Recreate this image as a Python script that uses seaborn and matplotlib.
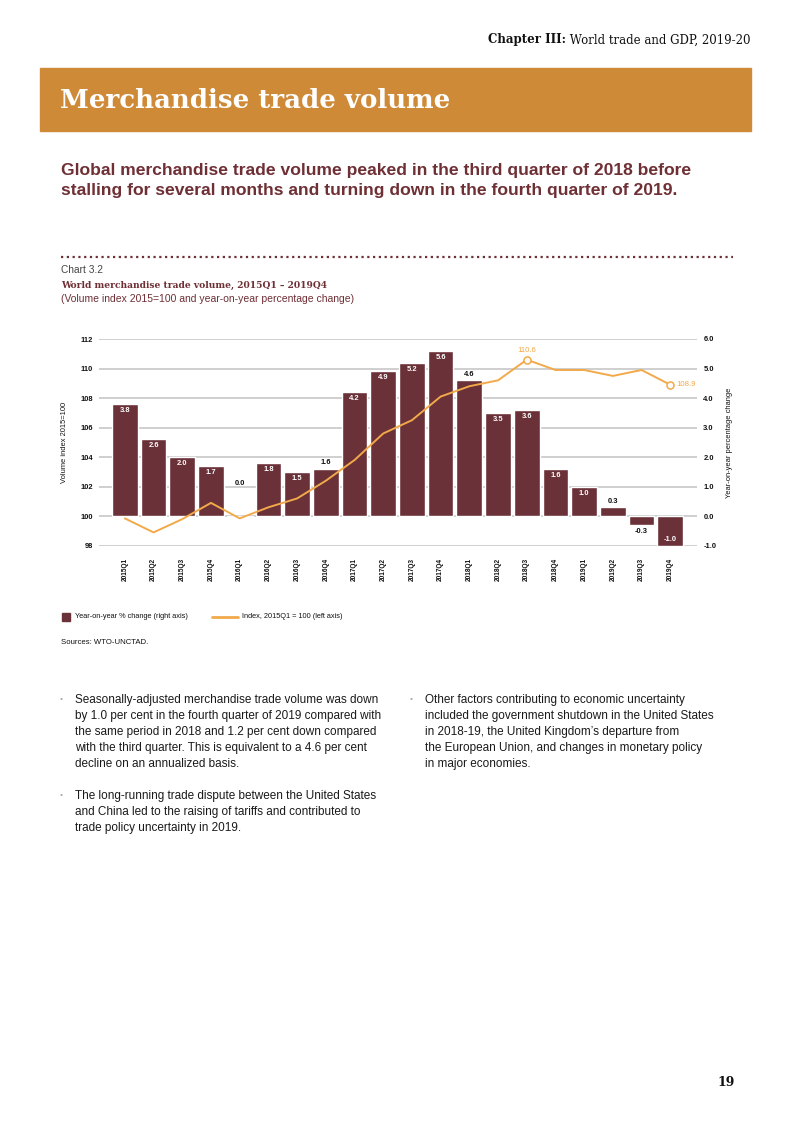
import numpy as np
import pandas as pd
import matplotlib
matplotlib.use("Agg")
import matplotlib.pyplot as plt
import seaborn as sns
from matplotlib.patches import Rectangle
from matplotlib.lines import Line2D

# ==========================================
# Data
# ==========================================
quarters = ["2015Q1", "2015Q2", "2015Q3", "2015Q4",
            "2016Q1", "2016Q2", "2016Q3", "2016Q4",
            "2017Q1", "2017Q2", "2017Q3", "2017Q4",
            "2018Q1", "2018Q2", "2018Q3", "2018Q4",
            "2019Q1", "2019Q2", "2019Q3", "2019Q4"]
yoy_change = [3.8, 2.6, 2.0, 1.7, -0.04, 1.8, 1.5, 1.6, 4.2, 4.9,
              5.2, 5.6, 4.6, 3.5, 3.6, 1.6, 1.0, 0.3, -0.3, -1.0]
volume_index = [99.85, 98.9, 99.8, 100.9, 99.85, 100.6, 101.2, 102.4, 103.8, 105.6,
                106.5, 108.1, 108.8, 109.2, 110.6, 109.9, 109.9, 109.5, 109.9, 108.9]
marked_quarters = ["2018Q3", "2019Q4"]
left_ticks = [98, 100, 102, 104, 106, 108, 110, 112]
right_ticks = [-1.0, 0.0, 1.0, 2.0, 3.0, 4.0, 5.0, 6.0]

# bars whose value label sits outside the bar, in black
outside_labels = ["2016Q4", "2018Q1", "2019Q2", "2019Q3"]

df = pd.DataFrame({"quarter": quarters, "yoy": yoy_change, "index": volume_index})

BAR = "#6a3138"
ORANGE = "#f2a94a"
BOX = "#cf8a38"
MAROON = "#6e2f35"
GRID = "#cccccc"
SANS = ["Liberation Sans", "DejaVu Sans"]
SERIF = ["DejaVu Serif"]

W, H = 793, 1122


def fx(px):
    return px / W


def fy(py):
    return 1 - py / H


sns.set_theme(style="white")
plt.rcParams["font.family"] = SANS

fig = plt.figure(figsize=(W / 100, H / 100), dpi=100)

# ==========================================
# Page furniture
# ==========================================
r = fig.canvas.get_renderer()
t_reg = fig.text(fx(750), fy(40), " World trade and GDP, 2019-20", ha="right", va="center",
                 fontsize=8.5, family=SERIF, color="#111111")
bb = t_reg.get_window_extent(renderer=r)
fig.text(bb.x0 / fig.dpi / fig.get_figwidth(), fy(40), "Chapter III:", ha="right", va="center",
         fontsize=8.5, family=SERIF, fontweight="bold", color="#111111")

fig.patches.append(Rectangle((fx(40), fy(131)), fx(751) - fx(40), (131 - 68) / H,
                             transform=fig.transFigure, color=BOX, zorder=0))
fig.text(fx(60), fy(100), "Merchandise trade volume", ha="left", va="center",
         fontsize=18.7, family=SERIF, fontweight="bold", color="white")

fig.text(fx(61), fy(180.5), "Global merchandise trade volume peaked in the third quarter of 2018 before\n"
         "stalling for several months and turning down in the fourth quarter of 2019.",
         ha="left", va="center", fontsize=12.6, fontweight="bold",
         color=MAROON, linespacing=1.45)

fig.lines.append(Line2D([fx(61), fx(733)], [fy(257), fy(257)], transform=fig.transFigure,
                        color=MAROON, lw=1.6, linestyle=(0, (1, 1.6))))

fig.text(fx(61), fy(270), "Chart 3.2", ha="left", va="center", fontsize=7.3, color="#444444")
fig.text(fx(61), fy(285), "World merchandise trade volume, 2015Q1 \u2013 2019Q4", ha="left",
         va="center", fontsize=6.6, family=SERIF, fontweight="bold", color=MAROON)
fig.text(fx(61), fy(299), "(Volume index 2015=100 and year-on-year percentage change)",
         ha="left", va="center", fontsize=7.5, color=MAROON)

# ==========================================
# Chart
# ==========================================
ax = fig.add_axes([fx(99), fy(545.7), fx(697) - fx(99), (545.7 - 339) / H])
sns.barplot(data=df, x="quarter", y="yoy", color=BAR, saturation=1, width=0.895, ax=ax, zorder=2)
ax.set_ylim(-1.0, 6.0)
ax.set_yticks(right_ticks)
ax.set_yticklabels([f"{v:.1f}" for v in right_ticks])
ax.set_axisbelow(True)
ax.grid(axis="y", color=GRID, lw=1.3)
ax.grid(axis="x", visible=False)

bars = ax.containers[0]
inside = [f"{v:.1f}" if (q not in outside_labels and abs(v) > 0.05) else ""
          for q, v in zip(quarters, yoy_change)]
outside = [f"{v:.1f}" if q in outside_labels else "" for q, v in zip(quarters, yoy_change)]
ax.bar_label(bars, labels=inside, padding=-7.2, color="white", fontsize=5.4, fontweight="bold")
ax.bar_label(bars, labels=outside, padding=2, color="#111111", fontsize=5.4, fontweight="bold")
for patch, v in zip(bars, yoy_change):
    if abs(v) <= 0.05:
        ax.annotate(f"{abs(v):.1f}", (patch.get_x() + patch.get_width() / 2, 0),
                    xytext=(0, 23.5), textcoords="offset points", ha="center", va="center",
                    color="#111111", fontsize=5.4, fontweight="bold")

ax_l = ax.twinx()
sns.lineplot(data=df, x="quarter", y="index", color=ORANGE, lw=1.4, sort=False, ax=ax_l, zorder=3)
marks = df[df["quarter"].isin(marked_quarters)]
sns.scatterplot(data=marks, x="quarter", y="index", ax=ax_l, s=26, facecolor="white",
                edgecolor=ORANGE, linewidth=1.1, zorder=4)
ax_l.annotate(f"{marks['index'].iloc[0]:.1f}", (14, marks["index"].iloc[0]), xytext=(0, 6.5),
              textcoords="offset points", ha="center", va="center", color=ORANGE, fontsize=5.6)
ax_l.annotate(f"{marks['index'].iloc[1]:.1f}", (19, marks["index"].iloc[1]), xytext=(4.5, 0),
              textcoords="offset points", ha="left", va="center", color=ORANGE, fontsize=5.6)
ax_l.set_ylim(98, 112)
ax_l.set_yticks(left_ticks)
ax_l.grid(False)

# twinx moves the original ticks to the left, so swap sides afterwards
ax.yaxis.tick_right()
ax.yaxis.set_label_position("right")
ax_l.yaxis.tick_left()
ax_l.yaxis.set_label_position("left")

for a in (ax, ax_l):
    for s in a.spines.values():
        s.set_visible(False)
    a.tick_params(axis="both", length=0, labelsize=5.4, colors="#111111")
    a.set_xlim(-0.9, 19.93)
    for lab in a.get_yticklabels():
        lab.set_fontweight("bold")
ax.tick_params(axis="y", pad=4.5)
ax_l.tick_params(axis="y", pad=4.5)
ax.set_xlabel("")
ax_l.set_xlabel("")
ax.tick_params(axis="x", pad=9)
for lab in ax.get_xticklabels():
    lab.set_rotation(90)
    lab.set_fontsize(4.7)
    lab.set_fontweight("bold")
    lab.set_va("top")
ax.set_ylabel("Year-on-year percentage change", fontsize=5.4, color="#111111", labelpad=7)
ax_l.set_ylabel("Volume index 2015=100", fontsize=5.4, color="#111111", labelpad=9)

# ==========================================
# Legend and source
# ==========================================
fig.patches.append(Rectangle((fx(62), fy(621)), 8 / W, 8 / H, transform=fig.transFigure,
                             color=BAR))
fig.text(fx(75), fy(617), "Year-on-year % change (right axis)", ha="left", va="center",
         fontsize=5.3, color="#111111")
fig.lines.append(Line2D([fx(212), fx(238)], [fy(617), fy(617)], transform=fig.transFigure,
                        color=ORANGE, lw=2))
fig.text(fx(242), fy(617), "Index, 2015Q1 = 100 (left axis)", ha="left", va="center",
         fontsize=5.3, color="#111111")
fig.text(fx(61), fy(643), "Sources: WTO-UNCTAD.", ha="left", va="center",
         fontsize=5.6, color="#111111")

# ==========================================
# Bullet text
# ==========================================
left_col = [
    ["Seasonally-adjusted merchandise trade volume was down",
     "by 1.0 per cent in the fourth quarter of 2019 compared with",
     "the same period in 2018 and 1.2 per cent down compared",
     "with the third quarter. This is equivalent to a 4.6 per cent",
     "decline on an annualized basis."],
    ["The long-running trade dispute between the United States",
     "and China led to the raising of tariffs and contributed to",
     "trade policy uncertainty in 2019."],
]
right_col = [
    ["Other factors contributing to economic uncertainty",
     "included the government shutdown in the United States",
     "in 2018-19, the United Kingdom\u2019s departure from",
     "the European Union, and changes in monetary policy",
     "in major economies."],
]


def bullets(paras, x_dot, x_txt, y0):
    y = y0
    for para in paras:
        fig.text(fx(x_dot), fy(y), "\u2022", ha="left", va="center", fontsize=6, color="#aaaaaa")
        for line in para:
            fig.text(fx(x_txt), fy(y), line, ha="left", va="center", fontsize=8.5,
                     color="#1a1a1a")
            y += 16
        y += 16


bullets(left_col, 60, 75, 700)
bullets(right_col, 410, 425, 700)

fig.text(fx(735), fy(1083), "19", ha="right", va="center", fontsize=9, fontweight="bold",
         family=SERIF, color="#111111")

fig.savefig("out.png", dpi=100)
